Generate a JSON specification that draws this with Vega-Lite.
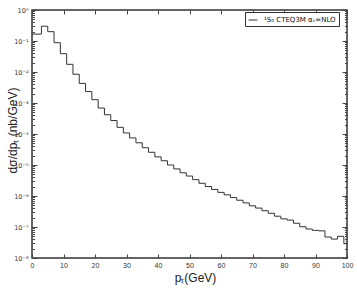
{
  "$schema": "https://vega.github.io/schema/vega-lite/v6.json",
  "width": 315,
  "height": 248,
  "autosize": {"type": "none"},
  "padding": {"left": 32, "top": 10, "right": 10, "bottom": 33},
  "background": "white",
  "config": {
    "font": "Liberation Sans",
    "view": {"stroke": "#333", "strokeWidth": 1.5},
    "axis": {"grid": false, "domain": false, "labelFont": "Liberation Sans", "titleFont": "Liberation Sans", "labelColor": "#333", "titleColor": "#222", "tickColor": "#444", "labelFlush": false, "labelOverlap": false, "labelBound": false, "titleFontWeight": "normal"}
  },
  "data": {"values": [
    {"pt": 0, "v": 0.167},
    {"pt": 3, "v": 0.30},
    {"pt": 5, "v": 0.20},
    {"pt": 7, "v": 0.088},
    {"pt": 9, "v": 0.039},
    {"pt": 11, "v": 0.0177},
    {"pt": 13, "v": 0.00846},
    {"pt": 15, "v": 0.00428},
    {"pt": 17, "v": 0.00234},
    {"pt": 19, "v": 0.00128},
    {"pt": 21, "v": 0.000687},
    {"pt": 23, "v": 0.000418},
    {"pt": 25, "v": 0.000272},
    {"pt": 27, "v": 0.000164},
    {"pt": 29, "v": 0.000108},
    {"pt": 31, "v": 0.0000748},
    {"pt": 33, "v": 0.000052},
    {"pt": 35, "v": 0.0000361},
    {"pt": 37, "v": 0.0000257},
    {"pt": 39, "v": 0.0000183},
    {"pt": 41, "v": 0.0000137},
    {"pt": 43, "v": 0.0000100},
    {"pt": 45, "v": 0.00000748},
    {"pt": 47, "v": 0.0000056},
    {"pt": 49, "v": 0.0000044},
    {"pt": 51, "v": 0.00000337},
    {"pt": 53, "v": 0.00000257},
    {"pt": 55, "v": 0.00000202},
    {"pt": 57, "v": 0.00000163},
    {"pt": 59, "v": 0.00000131},
    {"pt": 61, "v": 0.00000109},
    {"pt": 63, "v": 8.9e-7},
    {"pt": 65, "v": 7.3e-7},
    {"pt": 67, "v": 6.0e-7},
    {"pt": 69, "v": 4.83e-7},
    {"pt": 71, "v": 4.08e-7},
    {"pt": 73, "v": 3.35e-7},
    {"pt": 75, "v": 2.77e-7},
    {"pt": 77, "v": 2.23e-7},
    {"pt": 79, "v": 1.83e-7},
    {"pt": 81, "v": 1.67e-7},
    {"pt": 83, "v": 1.32e-7},
    {"pt": 85, "v": 1.02e-7},
    {"pt": 87, "v": 8.6e-8},
    {"pt": 89, "v": 7.8e-8},
    {"pt": 91, "v": 7.5e-8},
    {"pt": 93, "v": 4.75e-8},
    {"pt": 95, "v": 4.07e-8},
    {"pt": 97, "v": 5.0e-8},
    {"pt": 99, "v": 2.9e-8},
    {"pt": 100, "v": 2.9e-8}
  ]},
  "layer": [
    {
      "mark": {"type": "line", "interpolate": "step-after", "strokeWidth": 1, "clip": true},
      "encoding": {
        "x": {"field": "pt", "type": "quantitative", "scale": {"domain": [0, 100], "nice": false, "zero": false},
          "axis": {"orient": "bottom", "values": [0,10,20,30,40,50,60,70,80,90,100], "ticks": false, "labelFontSize": 7, "labelPadding": 3, "title": "pₜ(GeV)", "titleFontSize": 12, "titleX": 163, "titleY": 19, "titleAlign": "center", "titleBaseline": "middle"}},
        "y": {"field": "v", "type": "quantitative", "scale": {"type": "log", "domain": [1e-8, 1], "nice": false},
          "axis": {"orient": "left", "values": [1, 0.1, 0.01, 0.001, 0.0001, 0.00001, 0.000001, 1e-7, 1e-8], "ticks": false, "labelFont": "DejaVu Sans", "labelFontSize": 6.5, "labelPadding": 4,
            "labelExpr": "['10⁰','10⁻¹','10⁻²','10⁻³','10⁻⁴','10⁻⁵','10⁻⁶','10⁻⁷','10⁻⁸'][round(-log(datum.value)/LN10)]",
            "title": "dσ/dpₜ (nb/GeV)", "titleFontSize": 12, "titleAngle": -90, "titleX": -20, "titleY": 120, "titleAlign": "center", "titleBaseline": "middle"}},
        "color": {"datum": "¹S₀ CTEQ3M αₛ=NLO", "type": "nominal", "scale": {"range": ["#333333"]},
          "legend": {"orient": "none", "legendX": 213, "legendY": 2, "title": null, "strokeColor": "#333", "fillColor": "white", "padding": 3, "symbolType": "stroke", "symbolSize": 80, "symbolStrokeWidth": 1, "labelFontSize": 7, "labelFont": "DejaVu Sans", "labelColor": "#111", "labelOffset": 6}}
      }
    },
    {
      "mark": {"type": "line", "strokeOpacity": 0},
      "encoding": {
        "x": {"field": "pt", "type": "quantitative", "axis": {"orient": "bottom", "values": [0,10,20,30,40,50,60,70,80,90,100], "labels": false, "tickSize": -4, "title": null}},
        "y": {"field": "v", "type": "quantitative", "axis": {"orient": "left", "values": [1, 0.1, 0.01, 0.001, 0.0001, 0.00001, 0.000001, 1e-7, 1e-8], "labels": false, "tickSize": -5, "title": null}}
      }
    },
    {
      "mark": {"type": "line", "strokeOpacity": 0},
      "encoding": {
        "x": {"field": "pt", "type": "quantitative", "axis": {"orient": "top", "values": [0,10,20,30,40,50,60,70,80,90,100], "labels": false, "tickSize": -4, "title": null}},
        "y": {"field": "v", "type": "quantitative", "axis": {"orient": "left", "values": [0.9,0.8,0.7,0.6,0.5,0.4,0.3,0.2,0.09,0.08,0.07,0.06,0.05,0.04,0.03,0.02,0.009,0.008,0.007,0.006,0.005,0.004,0.003,0.002,0.0009,0.0008,0.0007,0.0006,0.0005,0.0004,0.0003,0.0002,9e-5,8e-5,7e-5,6e-5,5e-5,4e-5,3e-5,2e-5,9e-6,8e-6,7e-6,6e-6,5e-6,4e-6,3e-6,2e-6,9e-7,8e-7,7e-7,6e-7,5e-7,4e-7,3e-7,2e-7,9e-8,8e-8,7e-8,6e-8,5e-8,4e-8,3e-8,2e-8], "labels": false, "tickSize": -2.5, "title": null}}
      }
    },
    {
      "mark": {"type": "line", "strokeOpacity": 0},
      "encoding": {
        "x": {"field": "pt", "type": "quantitative", "axis": null},
        "y": {"field": "v", "type": "quantitative", "axis": {"orient": "right", "values": [1, 0.1, 0.01, 0.001, 0.0001, 0.00001, 0.000001, 1e-7, 1e-8], "labels": false, "tickSize": -5, "title": null}}
      }
    },
    {
      "mark": {"type": "line", "strokeOpacity": 0},
      "encoding": {
        "x": {"field": "pt", "type": "quantitative", "axis": null},
        "y": {"field": "v", "type": "quantitative", "axis": {"orient": "right", "values": [0.9,0.8,0.7,0.6,0.5,0.4,0.3,0.2,0.09,0.08,0.07,0.06,0.05,0.04,0.03,0.02,0.009,0.008,0.007,0.006,0.005,0.004,0.003,0.002,0.0009,0.0008,0.0007,0.0006,0.0005,0.0004,0.0003,0.0002,9e-5,8e-5,7e-5,6e-5,5e-5,4e-5,3e-5,2e-5,9e-6,8e-6,7e-6,6e-6,5e-6,4e-6,3e-6,2e-6,9e-7,8e-7,7e-7,6e-7,5e-7,4e-7,3e-7,2e-7,9e-8,8e-8,7e-8,6e-8,5e-8,4e-8,3e-8,2e-8], "labels": false, "tickSize": -2.5, "title": null}}
      }
    }
  ],
  "resolve": {"scale": {"x": "shared", "y": "shared"}, "axis": {"x": "independent", "y": "independent"}}
}
